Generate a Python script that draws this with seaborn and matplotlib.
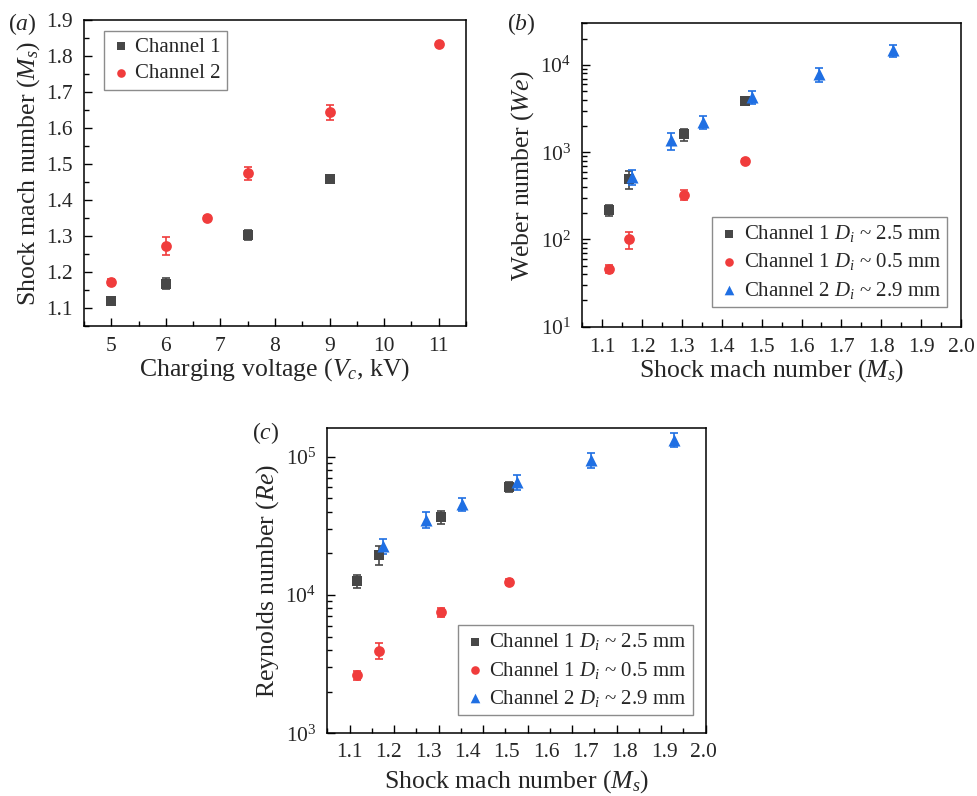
import numpy as np
import matplotlib
matplotlib.use("Agg")
import matplotlib.pyplot as plt
from matplotlib.ticker import MultipleLocator, LogLocator, NullFormatter
import seaborn as sns

# (a) shock Mach number vs charging voltage
volt_ch1 = [5, 6, 7.5, 9]
ms_ch1 = [1.118, 1.167, 1.303, 1.459]
ms_ch1_err = [0.005, 0.015, 0.014, 0.008]
volt_ch2 = [5, 6, 6.75, 7.5, 9, 11]
ms_ch2 = [1.173, 1.271, 1.350, 1.474, 1.643, 1.832]
ms_ch2_err = [0.008, 0.025, 0.005, 0.018, 0.020, 0.004]

# (b), (c) Mach number of each droplet series
ms_d25 = [1.117, 1.167, 1.305, 1.459]
ms_d05 = [1.117, 1.167, 1.305, 1.459]
ms_d29 = [1.174, 1.272, 1.352, 1.476, 1.643, 1.829]

# (b) Weber number
we_d25 = [217, 491, 1607, 3870]
we_d25_err = [30, 115, 260, 420]
we_d05 = [46, 100, 327, 796]
we_d05_err = [5, 22, 42, 45]
we_d29 = [522, 1370, 2220, 4300, 7820, 14720]
we_d29_err = [100, 310, 360, 750, 1450, 2400]

# (c) Reynolds number
re_d25 = [12550, 19460, 36400, 60700]
re_d25_err = [1300, 3100, 4000, 5000]
re_d05 = [2630, 3960, 7500, 12420]
re_d05_err = [200, 500, 600, 600]
re_d29 = [22480, 34840, 45480, 65230, 95100, 131900]
re_d29_err = [2700, 4600, 5000, 7800, 11800, 15000]

c_xtick_labels = ["1.1", "1.2", "1.3", "1.4", "1.5", "1.6", "1.7", "1.8", "1.9", "2.0"]

GRAY = "#474747"
RED = "#f03c3c"
BLUE = "#1f6fe3"

sns.set_theme(style="ticks")
plt.rcParams["font.family"] = ["Liberation Serif", "DejaVu Serif"]
plt.rcParams["mathtext.fontset"] = "custom"
plt.rcParams["mathtext.rm"] = "Liberation Serif"
plt.rcParams["mathtext.it"] = "Liberation Serif:italic"
plt.rcParams["mathtext.bf"] = "Liberation Serif:bold"

TICK_FS = 15.5
LABEL_FS = 18.5
LEG_FS = 15


def series(ax, x, y, err, color, marker, label, size):
    ax.errorbar(x, y, yerr=err, fmt="none", ecolor=color, elinewidth=1.2,
                capsize=3, capthick=1.2, zorder=2)
    sns.scatterplot(x=x, y=y, ax=ax, color=color, marker=marker, s=size,
                    linewidth=0, label=label, zorder=3)


def style_axes(ax):
    for sp in ax.spines.values():
        sp.set_visible(True)
        sp.set_color("black")
        sp.set_linewidth(1.1)
    ax.tick_params(which="both", direction="in", color="black", width=1.0,
                   labelsize=TICK_FS, pad=8, top=False, right=False)
    ax.tick_params(which="major", length=6)
    ax.tick_params(which="minor", length=3.5)
    ax.grid(False)
    ax.set_facecolor("white")


def make_legend(ax, loc, anchor):
    leg = ax.legend(loc=loc, bbox_to_anchor=anchor, borderaxespad=0,
                    fontsize=LEG_FS, frameon=True, fancybox=False,
                    edgecolor="#8c8c8c", framealpha=1, handletextpad=0.2,
                    handlelength=1.0, labelspacing=0.35, borderpad=0.3,
                    markerscale=0.8)
    leg.get_frame().set_linewidth(1.0)
    return leg


fig = plt.figure(figsize=(9.78, 7.96), dpi=100)
fig.patch.set_facecolor("white")

# (a)
ax_a = fig.add_axes([0.0859, 0.5905, 0.3906, 0.3844])
series(ax_a, volt_ch1, ms_ch1, ms_ch1_err, GRAY, "s", "Channel 1", 48)
series(ax_a, volt_ch2, ms_ch2, ms_ch2_err, RED, "o", "Channel 2", 60)
ax_a.set_xlim(4.5, 11.5)
ax_a.set_ylim(1.05, 1.9)
ax_a.xaxis.set_major_locator(MultipleLocator(1))
ax_a.xaxis.set_minor_locator(MultipleLocator(0.5))
ax_a.yaxis.set_major_locator(MultipleLocator(0.1))
ax_a.yaxis.set_minor_locator(MultipleLocator(0.05))
ax_a.yaxis.set_major_formatter(plt.FuncFormatter(lambda v, p: f"{v:.1f}"))
style_axes(ax_a)
ax_a.set_xlabel("Charging voltage ($V_c$, kV)", fontsize=LABEL_FS, labelpad=0)
ax_a.set_ylabel("Shock mach number ($M_s$)", fontsize=LABEL_FS, labelpad=3)
make_legend(ax_a, "upper left", (0.052, 0.965))

# (b)
ax_b = fig.add_axes([0.5954, 0.5896, 0.3872, 0.381])
series(ax_b, ms_d25, we_d25, we_d25_err, GRAY, "s", "Channel 1 $D_i$ ~ 2.5 mm", 48)
series(ax_b, ms_d05, we_d05, we_d05_err, RED, "o", "Channel 1 $D_i$ ~ 0.5 mm", 60)
series(ax_b, ms_d29, we_d29, we_d29_err, BLUE, "^", "Channel 2 $D_i$ ~ 2.9 mm", 75)
ax_b.set_yscale("log")
ax_b.set_xlim(1.05, 2.0)
ax_b.set_ylim(10, 3e4)
ax_b.xaxis.set_major_locator(MultipleLocator(0.1))
ax_b.xaxis.set_minor_locator(MultipleLocator(0.05))
ax_b.xaxis.set_major_formatter(plt.FuncFormatter(lambda v, p: f"{v:.1f}"))
ax_b.yaxis.set_major_locator(LogLocator(base=10, numticks=10))
ax_b.yaxis.set_minor_locator(LogLocator(base=10, subs=np.arange(2, 10), numticks=20))
ax_b.yaxis.set_minor_formatter(NullFormatter())
style_axes(ax_b)
ax_b.set_xlabel("Shock mach number ($M_s$)", fontsize=LABEL_FS, labelpad=0)
ax_b.set_ylabel("Weber number ($We$)", fontsize=LABEL_FS, labelpad=3)
make_legend(ax_b, "lower right", (0.963, 0.065))

# (c)
ax_c = fig.add_axes([0.3347, 0.0787, 0.3868, 0.3832])
series(ax_c, ms_d25, re_d25, re_d25_err, GRAY, "s", "Channel 1 $D_i$ ~ 2.5 mm", 48)
series(ax_c, ms_d05, re_d05, re_d05_err, RED, "o", "Channel 1 $D_i$ ~ 0.5 mm", 60)
series(ax_c, ms_d29, re_d29, re_d29_err, BLUE, "^", "Channel 2 $D_i$ ~ 2.9 mm", 75)
ax_c.set_yscale("log")
ax_c.set_xlim(1.05, 1.9)
ax_c.set_ylim(1e3, 1.6e5)
ax_c.xaxis.set_major_locator(MultipleLocator(0.1))
ax_c.xaxis.set_minor_locator(MultipleLocator(0.05))
ax_c.yaxis.set_major_locator(LogLocator(base=10, numticks=10))
ax_c.yaxis.set_minor_locator(LogLocator(base=10, subs=np.arange(2, 10), numticks=20))
ax_c.yaxis.set_minor_formatter(NullFormatter())
style_axes(ax_c)
# tick labels in the original are spread evenly, not under the tick marks
ax_c.tick_params(axis="x", which="major", labelbottom=False)
for pos, lab in zip(np.linspace(1.1, 1.895, len(c_xtick_labels)), c_xtick_labels):
    ax_c.text(pos, -0.03, lab, transform=ax_c.get_xaxis_transform(),
              ha="center", va="top", fontsize=TICK_FS)
ax_c.set_xlabel("Shock mach number ($M_s$)", fontsize=LABEL_FS, labelpad=17)
ax_c.set_ylabel("Reynolds number ($Re$)", fontsize=LABEL_FS, labelpad=3)
make_legend(ax_c, "lower right", (0.966, 0.06))

fig.text(8 / 978, 0.986, "($a$)", fontsize=17, va="top", ha="left")
fig.text(507 / 978, 0.986, "($b$)", fontsize=17, va="top", ha="left")
fig.text(252 / 978, 0.472, "($c$)", fontsize=17, va="top", ha="left")

fig.savefig("out.png", dpi=100, facecolor="white")
